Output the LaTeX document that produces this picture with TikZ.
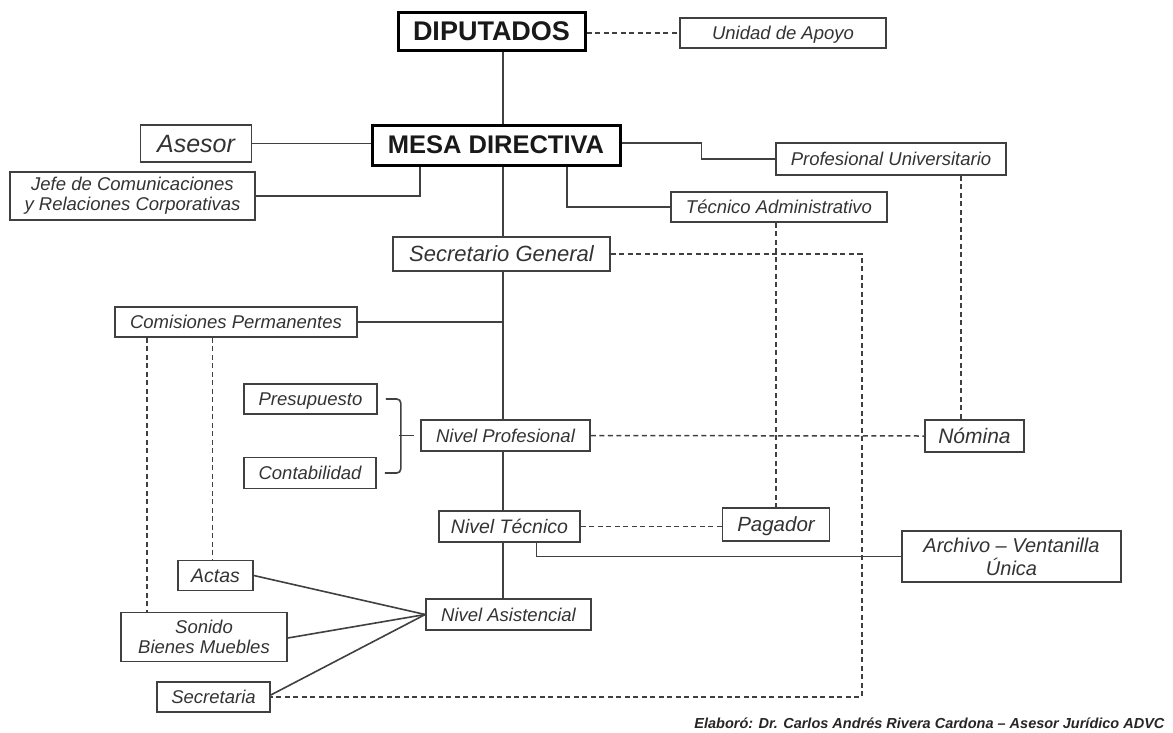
\documentclass[tikz,border=0pt]{standalone}
\usepackage{fontspec}
\setmainfont{Liberation Sans}
\usepackage{xcolor}

\begin{document}
\begin{tikzpicture}[x=1pt,y=-1pt]
\tikzstyle{box} = [rectangle, draw=black!75, line width=1.6pt, inner sep=0pt,
align=center, text=black!80, font=\fontsize{18.5}{20}\selectfont\itshape,
text height=13.3pt, text depth=0pt]
\tikzstyle{twoline} = [text height=, text depth=]
\tikzstyle{head} = [rectangle, draw=black, line width=3pt, inner sep=0pt,
text=black!90, font=\fontsize{27}{30}\selectfont\bfseries]
\tikzstyle{line} = [draw=black!75, line width=1.6pt];
\tikzstyle{dline} = [draw=black!75, line width=1.5pt, dash pattern=on 5pt off 3.5pt];
\useasboundingbox (0,0) rectangle (1173,732);
\coordinate (trunk) at (503,0);
\coordinate (sgcorner) at (862,254);
% top
\node [head, minimum width=187, minimum height=38] (diputados) at (491.5,31) {DIPUTADOS};
\node [box, minimum width=206, minimum height=30] (apoyo) at (783,33) {Unidad de Apoyo};
\node [head, minimum width=248, minimum height=40, font=\fontsize{25.5}{28}\selectfont\bfseries] (mesa) at (496,145) {MESA DIRECTIVA};
\node [box, minimum width=111, minimum height=37, text height=18pt, font=\fontsize{25}{28}\selectfont\itshape] (asesor) at (196,143.5) {Asesor};
\node [box, twoline, minimum width=245, minimum height=48] (jefe) at (132.5,196) {Jefe de Comunicaciones\\y Relaciones Corporativas};
\node [box, minimum width=230, minimum height=32] (profuni) at (891,159) {Profesional Universitario};
\node [box, minimum width=216, minimum height=30] (tecadm) at (779,207) {Técnico Administrativo};
\node [box, minimum width=217, minimum height=34, text height=15.8pt, font=\fontsize{22}{24}\selectfont\itshape] (secgen) at (501.5,254) {Secretario General};
% middle
\node [box, minimum width=242, minimum height=30] (comisiones) at (236,322) {Comisiones Permanentes};
\node [box, minimum width=133, minimum height=30] (presupuesto) at (310.5,399) {Presupuesto};
\node [box, minimum width=132, minimum height=31] (contabilidad) at (310,473) {Contabilidad};
\node [box, minimum width=169, minimum height=31] (nivprof) at (505.5,435.5) {Nivel Profesional};
\node [box, minimum width=99, minimum height=32, text height=15pt, font=\fontsize{21}{24}\selectfont\itshape] (nomina) at (974.5,436) {Nómina};
\node [box, minimum width=141, minimum height=31, text height=14pt, font=\fontsize{19.5}{22}\selectfont\itshape] (nivtec) at (509.5,526.5) {Nivel Técnico};
\node [box, minimum width=107, minimum height=33, text height=14.8pt, font=\fontsize{20.5}{23}\selectfont\itshape] (pagador) at (776,524.5) {Pagador};
\node [box, twoline, minimum width=219, minimum height=51, font=\fontsize{20}{23}\selectfont\itshape] (archivo) at (1011.5,556.5) {Archivo -- Ventanilla\\Única};
% bottom
\node [box, minimum width=165, minimum height=31] (nivasis) at (508.5,614.5) {Nivel Asistencial};
\node [box, minimum width=75, minimum height=30, text height=14pt, font=\fontsize{19.5}{22}\selectfont\itshape] (actas) at (215.5,575.5) {Actas};
\node [box, twoline, minimum width=166, minimum height=49] (sonido) at (204,637) {Sonido\\Bienes Muebles};
\node [box, minimum width=113, minimum height=30] (secretaria) at (213.5,697) {Secretaria};
\node [anchor=base east, text=black!85, font=\fontsize{14.5}{16}\selectfont\bfseries\itshape] (footer) at (1168,728) {Elaboró: Dr. Carlos Andrés Rivera Cardona -- Asesor Jurídico ADVC};

\path[dline] (diputados.east |- apoyo) -- (apoyo.west);
\path[line] (diputados.south -| trunk) -- (mesa.north -| trunk);
\path[line] (asesor.east) -- (asesor.east -| mesa.west);
\path[line] (jefe.east) -| ([xshift=-76pt]mesa.south);
\path[line] ([yshift=2pt]mesa.east) -- ++(80,0) |- (profuni.west);
\path[line] ([xshift=71pt]mesa.south) |- (tecadm.west);
\path[line] (mesa.south -| trunk) -- (secgen.north -| trunk);
\path[dline] (secgen.east) -- (secgen.east -| sgcorner) |- (secretaria.east);
\path[line] (secgen.south -| trunk) -- (nivprof.north -| trunk);
\path[line] (comisiones.east) -- (comisiones.east -| trunk);
\path[dline] ([xshift=-89pt]comisiones.south) -- ([xshift=-89pt]comisiones.south |- sonido.north);
\path[dline] ([xshift=-3pt]actas.north |- comisiones.south) -- ([xshift=-3pt]actas.north);
% bracket
\path[line, rounded corners=4pt] ([xshift=8pt]presupuesto.east) -- ++(15,0) |- ([xshift=8pt]contabilidad.east);
\path[line] ([xshift=-21pt]nivprof.west) -- ([xshift=-6pt]nivprof.west);
\path[dline] (nivprof.east) -- (nomina.west);
\path[dline] ([xshift=70pt]profuni.south) -- ([xshift=70pt]profuni.south |- nomina.north);
\path[dline] (tecadm.south -| pagador) -- (pagador.north);
\path[line] (nivprof.south -| trunk) -- (nivtec.north -| trunk);
\path[dline] (nivtec.east) -- (nivtec.east -| pagador.west);
\path[line] ([xshift=27pt]nivtec.south) |- (archivo.west);
\path[line] (nivtec.south -| trunk) -- (nivasis.north -| trunk);
\path[line] (actas.east) -- (nivasis.west);
\path[line] ([yshift=-1pt]sonido.east) -- (nivasis.west);
\path[line] ([yshift=2pt]secretaria.east) -- (nivasis.west);
\end{tikzpicture}
\end{document}
